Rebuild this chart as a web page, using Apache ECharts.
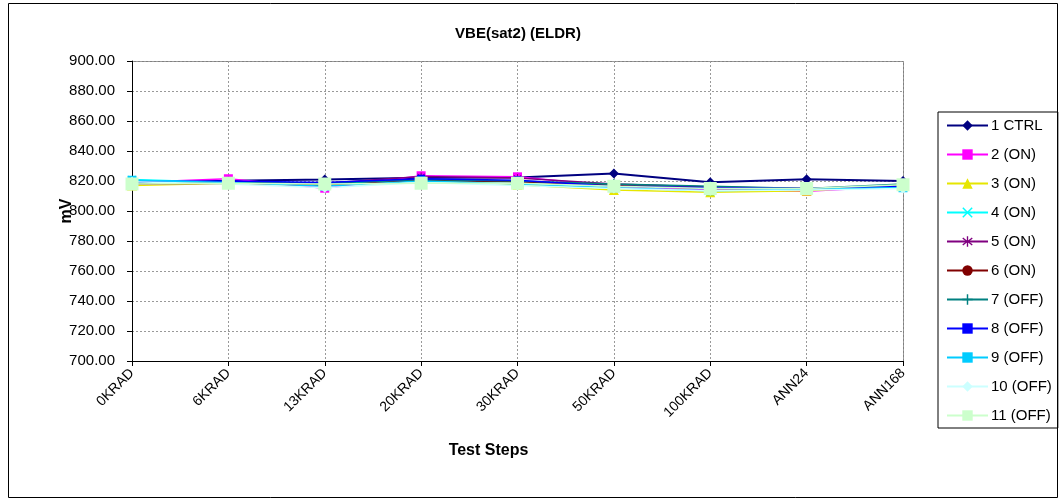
<!DOCTYPE html>
<html>
<head>
<meta charset="utf-8">
<script src="https://cdn.jsdelivr.net/npm/echarts@6/dist/echarts.min.js"></script>
<style>
html,body{margin:0;padding:0;background:#fff}
#main{width:1064px;height:504px}
</style>
</head>
<body>
<div id="main"></div>
<script>
var steps = ["0KRAD", "6KRAD", "13KRAD", "20KRAD", "30KRAD", "50KRAD", "100KRAD", "ANN24", "ANN168"]
var names = ["1 CTRL", "2 (ON)", "3 (ON)", "4 (ON)", "5 (ON)", "6 (ON)", "7 (OFF)", "8 (OFF)", "9 (OFF)", "10 (OFF)", "11 (OFF)"]

var s1 = [818.5, 820.2, 821.0, 822.2, 822.3, 825.0, 819.2, 821.2, 820.0]
var s2 = [819.0, 821.5, 815.2, 823.5, 822.8, 816.5, 814.0, 813.2, 816.5]
var s3 = [817.0, 818.5, 817.5, 821.0, 817.5, 814.0, 812.5, 813.5, 817.0]
var s4 = [821.0, 819.0, 818.0, 820.5, 819.5, 817.5, 815.5, 814.5, 816.0]
var s5 = [818.5, 819.5, 818.5, 823.0, 822.0, 818.0, 816.0, 815.0, 817.0]
var s6 = [818.0, 818.5, 817.0, 820.5, 819.5, 817.0, 815.0, 814.5, 817.5]
var s7 = [818.5, 819.5, 818.5, 821.0, 820.0, 818.0, 816.5, 815.0, 818.0]
var s8 = [819.5, 820.0, 819.0, 821.5, 820.5, 816.5, 815.5, 815.0, 816.5]
var s9 = [820.5, 819.0, 816.5, 820.0, 818.0, 815.5, 813.5, 814.5, 815.5]
var s10 = [819.5, 818.0, 815.5, 819.0, 817.0, 815.0, 813.5, 814.0, 815.0]
var s11 = [818.0, 818.5, 818.0, 818.5, 818.5, 816.5, 815.0, 815.0, 817.5]

var yTicks = [700, 720, 740, 760, 780, 800, 820, 840, 860, 880, 900]

var colors = ["#000080", "#FF00FF", "#E6E600", "#00FFFF", "#800080", "#800000", "#008080", "#0000FF", "#00CCFF", "#CCFFFF", "#CCFFCC"]
var symX = "path://M0,1L1,0L5,4L9,0L10,1L6,5L10,9L9,10L5,6L1,10L0,9L4,5Z"
var symStar = "path://M4.4,0H5.6V4L8.8,1.2L9.6,2L6.4,5L9.6,8L8.8,8.8L5.6,6V10H4.4V6L1.2,8.8L0.4,8L3.6,5L0.4,2L1.2,1.2L4.4,4Z"
var symPlus = "path://M4.3,0H5.7V4.3H10V5.7H5.7V10H4.3V5.7H0V4.3H4.3Z"
var symDash = "path://M0,3.5H10V6.5H0Z"
var symbols = ["diamond", "rect", "triangle", symX, symStar, "circle", symPlus, symDash, symDash, "diamond", "rect"]
var sizes = [10, 9, 10, 8, 8, 9, 10, 8, 9, 10, 13]
var data = [s1, s2, s3, s4, s5, s6, s7, s8, s9, s10, s11]

var font = "Liberation Sans, Arial, sans-serif"
var chart = echarts.init(document.getElementById("main"))

var series = []
for (var i = 0; i < data.length; i++) {
	series.push({
		name: names[i],
		type: "line",
		data: data[i],
		symbol: symbols[i],
		symbolSize: sizes[i],
		showAllSymbol: true,
		z: 2 + i,
		lineStyle: { color: colors[i], width: i == 0 ? 2 : 1.5 },
		itemStyle: { color: colors[i] },
		emphasis: { disabled: true },
		animation: false
	})
}

var option = {
	animation: false,
	textStyle: { fontFamily: font },
	title: {
		text: "VBE(sat2) (ELDR)",
		left: 513,
		top: 21,
		textAlign: "center",
		textStyle: { fontSize: 15, fontWeight: "bold", color: "#000", fontFamily: font }
	},
	graphic: [
		{ type: "rect", shape: { x: 8.5, y: 3.5, width: 1049, height: 494 }, style: { fill: "none", stroke: "#000", lineWidth: 1 }, silent: true },
		{ type: "rect", shape: { x: 132.5, y: 61.5, width: 771, height: 300 }, style: { fill: "none", stroke: "#808080", lineWidth: 1 }, silent: true, z: 0 }
	],
	legend: {
		orient: "vertical",
		left: 938,
		top: 112,
		padding: [6, 6, 5, 8],
		itemGap: 14,
		itemWidth: 41,
		itemHeight: 13,
		borderColor: "#000",
		borderWidth: 1,
		textStyle: { fontSize: 15, color: "#000", fontFamily: font, padding: [0, 0, 0, -2] },
		data: names
	},
	grid: { left: 132, right: 161, top: 61, bottom: 143 },
	xAxis: {
		type: "category",
		data: steps,
		boundaryGap: false,
		name: "Test Steps",
		nameLocation: "middle",
		nameGap: 82,
		nameTextStyle: { fontSize: 16, fontWeight: "bold", color: "#000", padding: [0, 58, 0, 0] },
		axisLine: { lineStyle: { color: "#000", width: 1 } },
		axisTick: { show: true, alignWithLabel: true, length: 5, lineStyle: { color: "#000" } },
		axisLabel: { rotate: 45, fontSize: 14, color: "#000", margin: 10, interval: 0 },
		splitLine: { show: true, lineStyle: { color: "#999", type: [2, 2], width: 1 } }
	},
	yAxis: {
		type: "value",
		min: yTicks[0],
		max: yTicks[yTicks.length - 1],
		interval: 20,
		name: "mV",
		nameLocation: "middle",
		nameGap: 57,
		nameMoveOverlap: false,
		nameTextStyle: { fontSize: 16, fontWeight: "bold", color: "#000" },
		axisLine: { show: true, lineStyle: { color: "#000", width: 1 } },
		axisTick: { show: true, length: 5, inside: false, lineStyle: { color: "#000" } },
		axisLabel: { fontSize: 15, color: "#000", margin: 17, formatter: function (v) { return v.toFixed(2) } },
		splitLine: { show: true, lineStyle: { color: "#999", type: [2, 2], width: 1 } }
	},
	series: series
}

chart.setOption(option)
</script>
</body>
</html>
